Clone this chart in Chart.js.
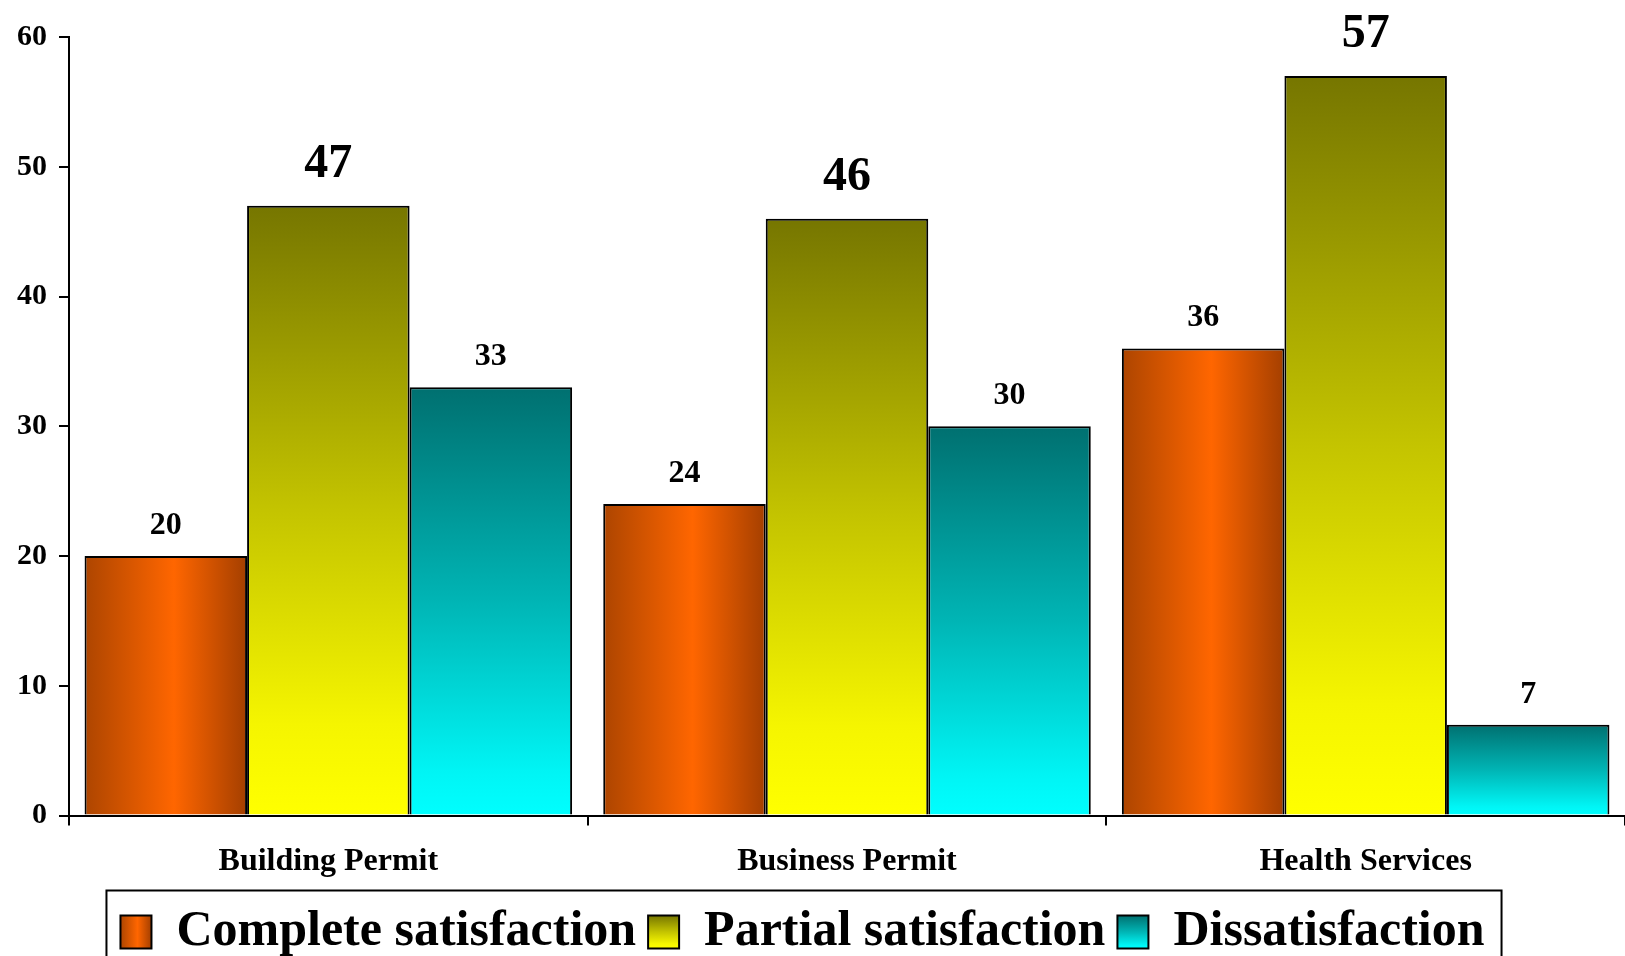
<!DOCTYPE html>
<html>
<head>
<meta charset="utf-8">
<script src="https://cdn.jsdelivr.net/npm/chart.js@4.4.1/dist/chart.umd.min.js"></script>
<style>
  html, body { margin: 0; padding: 0; background: #fff; overflow: hidden; }
  #wrap { position: relative; width: 1625px; height: 967px; }
</style>
</head>
<body>
<div id="wrap"><canvas id="chart"></canvas></div>
<script>
// data
const categories = ['Building Permit', 'Business Permit', 'Health Services'];
const seriesNames = ['Complete satisfaction', 'Partial satisfaction', 'Dissatisfaction'];
const completeValues = [20, 24, 36];
const partialValues = [47, 46, 57];
const dissatisfactionValues = [33, 30, 7];
const yMax = 60;
const yStep = 10;

const FONT = "'Liberation Serif', 'Times New Roman', serif";
const CAT_PCT = 0.94;
const LEGEND_SIZE = 50;
const LEGEND_PAD = 12;
const LEGEND_SHIFT = 10; // legend sits a bit left of centre in the original
const BOX_W = 31, BOX_H = 33;
const fallback = ['#FF6600', '#C4C400', '#00B5B5'];

// orange is shaded left-right, the other two top-bottom
function makeGradient(ctx, idx, left, right, top, bottom) {
    let g;
    if (idx === 0) {
        g = ctx.createLinearGradient(left, 0, right, 0);
        g.addColorStop(0, '#AD4500');
        g.addColorStop(0.55, '#FF6600');
        g.addColorStop(1, '#A43F00');
    } else if (idx === 1) {
        g = ctx.createLinearGradient(0, top, 0, bottom);
        g.addColorStop(0, '#767600');
        g.addColorStop(0.5, '#C4C400');
        g.addColorStop(0.85, '#F5F500');
        g.addColorStop(1, '#FFFF00');
    } else {
        g = ctx.createLinearGradient(0, top, 0, bottom);
        g.addColorStop(0, '#007070');
        g.addColorStop(0.5, '#00B5B5');
        g.addColorStop(0.9, '#00F5F5');
        g.addColorStop(1, '#00FFFF');
    }
    return g;
}

function barFill(idx) {
    return function(c) {
        const chart = c.chart;
        if (c.type !== 'data' || !chart.chartArea) return fallback[idx];
        const x = chart.scales.x, y = chart.scales.y;
        const bw = (x.width / categories.length) * CAT_PCT / seriesNames.length;
        const left = x.getPixelForValue(c.dataIndex) + (idx - seriesNames.length / 2) * bw;
        return makeGradient(chart.ctx, idx, left, left + bw, y.getPixelForValue(c.raw), y.getPixelForValue(0));
    };
}

// numbers above the bars
const valueLabels = {
    id: 'valueLabels',
    afterDatasetsDraw(chart) {
        const ctx = chart.ctx;
        ctx.save();
        ctx.fillStyle = '#000';
        ctx.textAlign = 'center';
        ctx.textBaseline = 'alphabetic';
        chart.data.datasets.forEach((ds, di) => {
            const big = di === 1;
            ctx.font = 'bold ' + (big ? 48 : 32) + 'px ' + FONT;
            chart.getDatasetMeta(di).data.forEach((bar, i) => {
                ctx.fillText(ds.data[i], bar.x, bar.y - (big ? 29 : 22));
            });
        });
        ctx.restore();
    }
};

// gradient legend boxes + frame round the legend
const legendStyle = {
    id: 'legendStyle',
    afterUpdate(chart) {
        const lg = chart.legend;
        lg.left -= LEGEND_SHIFT;
        lg.right -= LEGEND_SHIFT;
        lg.legendHitBoxes.forEach(hb => { hb.left -= LEGEND_SHIFT; });
    },
    beforeDraw(chart) {
        const lg = chart.legend;
        lg.legendItems.forEach((item, i) => {
            const hb = lg.legendHitBoxes[i];
            const top = hb.top + (LEGEND_SIZE - BOX_H) / 2;
            item.fillStyle = makeGradient(chart.ctx, i, hb.left, hb.left + BOX_W, top, top + BOX_H);
        });
    },
    afterDraw(chart) {
        const lg = chart.legend;
        const boxes = lg.legendHitBoxes;
        const last = boxes[boxes.length - 1];
        const left = boxes[0].left - 14;
        const right = last.left + last.width + 17;
        const top = lg.top - 4.5;
        const ctx = chart.ctx;
        ctx.save();
        ctx.strokeStyle = '#000';
        ctx.lineWidth = 2;
        ctx.strokeRect(left, top, right - left, lg.height + 30);
        ctx.restore();
    }
};

const ctx = document.getElementById('chart').getContext('2d');
new Chart(ctx, {
    type: 'bar',
    data: {
        labels: categories,
        datasets: [
            { label: seriesNames[0], data: completeValues, backgroundColor: barFill(0) },
            { label: seriesNames[1], data: partialValues, backgroundColor: barFill(1) },
            { label: seriesNames[2], data: dissatisfactionValues, backgroundColor: barFill(2) }
        ]
    },
    options: {
        responsive: true,
        maintainAspectRatio: false,
        animation: false,
        layout: { padding: { top: 37, left: 0, right: 0, bottom: 0 } },
        datasets: {
            bar: {
                categoryPercentage: CAT_PCT,
                barPercentage: 1,
                borderColor: '#000',
                borderWidth: 2
            }
        },
        plugins: {
            legend: {
                position: 'bottom',
                labels: {
                    font: { family: FONT, size: LEGEND_SIZE, weight: 'bold' },
                    color: '#000',
                    boxWidth: BOX_W,
                    boxHeight: BOX_H,
                    padding: LEGEND_PAD
                }
            },
            tooltip: { enabled: false }
        },
        scales: {
            x: {
                grid: { offset: true, drawOnChartArea: false, color: '#000', lineWidth: 2, tickLength: 10 },
                border: { color: '#000', width: 2 },
                ticks: { font: { family: FONT, size: 32, weight: 'bold' }, color: '#000', padding: 17 },
                afterFit: function(s) { s.height = 79.5; }
            },
            y: {
                min: 0,
                max: yMax,
                grid: { drawOnChartArea: false, color: '#000', lineWidth: 2, tickLength: 10 },
                border: { color: '#000', width: 2 },
                ticks: { stepSize: yStep, font: { family: FONT, size: 30, weight: 'bold' }, color: '#000', padding: 12 },
                afterFit: function(s) { s.width = 69; }
            }
        }
    },
    plugins: [valueLabels, legendStyle]
});
</script>
</body>
</html>
